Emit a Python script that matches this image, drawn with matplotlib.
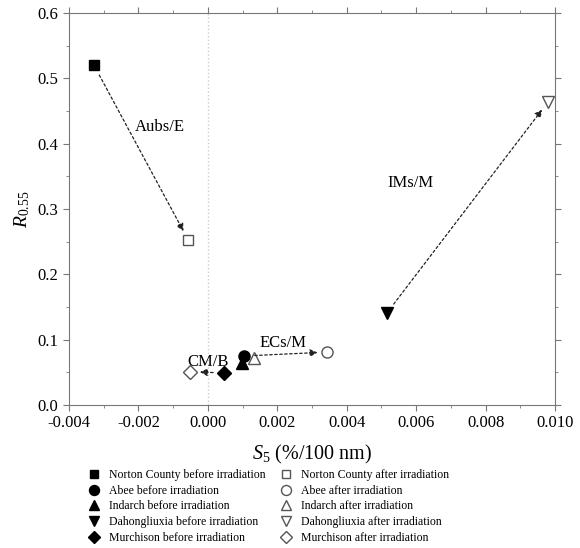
import numpy as np
import matplotlib
matplotlib.use('Agg')
import matplotlib.pyplot as plt

plt.rcParams['font.family'] = ['Liberation Serif', 'DejaVu Serif']
plt.rcParams['mathtext.fontset'] = 'custom'
plt.rcParams['mathtext.it'] = 'Liberation Serif:italic'
plt.rcParams['mathtext.rm'] = 'Liberation Serif'

names = ['Norton County', 'Abee', 'Indarch', 'Dahongliuxia', 'Murchison']
markers = ['s', 'o', '^', 'v', 'D']
s5_before = [-0.00328, 0.00103, 0.00099, 0.00516, 0.00047]
r_before = [0.520, 0.075, 0.064, 0.141, 0.049]
s5_after = [-0.00057, 0.00344, 0.00133, 0.00980, -0.00051]
r_after = [0.253, 0.081, 0.072, 0.464, 0.051]
sizes = [7, 8, 8, 8, 7]

# arrows: index of sample, from before to after
arrow_ids = [0, 1, 3, 4]
group_labels = ['Aubs/E', 'ECs/M', 'IMs/M', 'CM/B']
label_x = [-0.00138, 0.00217, 0.00583, 0.00000]
label_y = [0.426, 0.095, 0.34, 0.066]

fig = plt.figure(figsize=(5.8, 5.48), dpi=100)
ax = fig.add_axes([69/580, 1-405/548, (555-69)/580, (405-13)/548])

ax.axvline(0, color='#cccccc', ls=':', lw=1, zorder=0)

for i in arrow_ids:
    ax.annotate('', xy=(s5_after[i], r_after[i]), xytext=(s5_before[i], r_before[i]),
                arrowprops=dict(arrowstyle='-|>', ls=(0, (2, 2)), lw=0.9, color='#222222',
                                shrinkA=8, shrinkB=7, mutation_scale=11))

hb, ha = [], []
for i in range(len(names)):
    hb.append(ax.plot(s5_before[i], r_before[i], marker=markers[i], ms=sizes[i], color='black',
                      ls='none', label=names[i] + ' before irradiation')[0])
for i in range(len(names)):
    ha.append(ax.plot(s5_after[i], r_after[i], marker=markers[i], ms=sizes[i], mfc='white',
                      mec='#555555', mew=1, ls='none', label=names[i] + ' after irradiation')[0])

for t, x, y in zip(group_labels, label_x, label_y):
    ax.text(x, y, t, fontsize=12, ha='center', va='center')

ax.set_xlim(-0.004, 0.010)
ax.set_ylim(0, 0.6)
ax.set_xticks(np.arange(-0.004, 0.0101, 0.002))
ax.set_xticklabels(['-0.004', '-0.002', '0.000', '0.002', '0.004', '0.006', '0.008', '0.010'])
ax.set_xticks(np.arange(-0.004, 0.0101, 0.001), minor=True)
ax.set_yticks(np.arange(0, 0.61, 0.1))
ax.set_yticks(np.arange(0, 0.61, 0.05), minor=True)
ax.tick_params(which='both', top=True, right=True, direction='out', color='#777777',
               labelsize=12)
ax.tick_params(which='major', length=4)
ax.tick_params(which='minor', length=2)
for sp in ax.spines.values():
    sp.set_color('#777777')

ax.set_xlabel(r'$S_{\mathit{5}}$ (%/100 nm)', fontsize=14.5, labelpad=8)
ax.set_ylabel(r'$R_{0.55}$', fontsize=14, labelpad=4)

handles = hb + ha
fig.legend(handles=handles, loc='upper center', bbox_to_anchor=(0.463, 1-463/548), ncol=2,
           frameon=False, fontsize=8.5, handlelength=1, handletextpad=0.8,
           columnspacing=1.2, labelspacing=0.32, borderpad=0, markerscale=0.9)

fig.savefig('out.png', dpi=100)
